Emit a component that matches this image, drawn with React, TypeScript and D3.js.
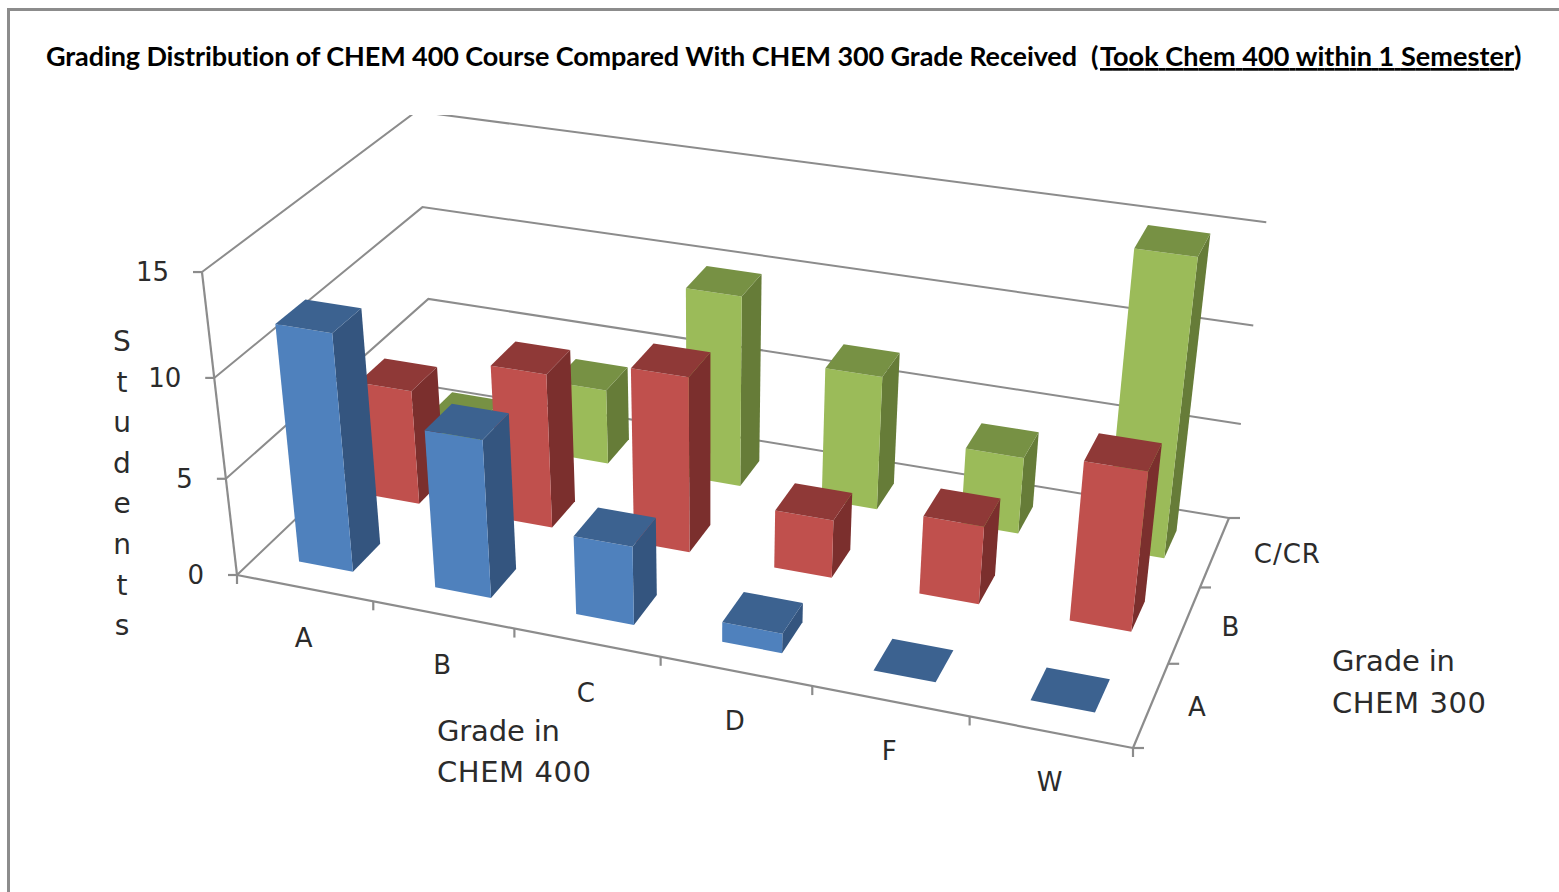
import React from "react";
import * as d3 from "d3";

const grades400 = ["A", "B", "C", "D", "F", "W"];
const grades300 = ["A", "B", "C/CR"];
const valuesA = [12, 8, 4, 1, 0, 0];
const valuesB = [6, 8, 9, 3, 4, 8];
const valuesC = [1, 4, 10, 7, 4, 15];
const zTicks = [0, 5, 10, 15];
const frontColors = ["#4f81bd", "#c0504d", "#9bbb59"];
const sideColors = ["#34557f", "#7b2f2d", "#667c38"];
const topColors = ["#3c6290", "#8f3937", "#779144"];
const seriesValues = [valuesA, valuesB, valuesC];
const yAxisLetters = "Students".split("");

type Pt = [number, number];
const FL: Pt = [237, 575];
const FR: Pt = [1133, 748];
const BR: Pt = [1229, 518];
const BL: Pt = [434, 387];
const VP: Pt = [708, 4650];
const lambdaMax = -0.0692;

function makeProjection() {
  const [x0, y0] = FL, [x1, y1] = FR, [x2, y2] = BR, [x3, y3] = BL;
  const dx1 = x1 - x2, dx2 = x3 - x2, sx = x0 - x1 + x2 - x3;
  const dy1 = y1 - y2, dy2 = y3 - y2, sy = y0 - y1 + y2 - y3;
  const den = dx1 * dy2 - dx2 * dy1;
  const g = (sx * dy2 - dx2 * sy) / den;
  const h = (dx1 * sy - sx * dy1) / den;
  const a = x1 - x0 + g * x1, b = x3 - x0 + h * x3, c = x0;
  const d = y1 - y0 + g * y1, e = y3 - y0 + h * y3, f = y0;
  return (u: number, v: number, z: number): Pt => {
    const l = lambdaMax * z;
    const W = g * u + h * v + 1 + l;
    return [(a * u + b * v + c + l * VP[0]) / W, (d * u + e * v + f + l * VP[1]) / W];
  };
}
const project = makeProjection();
const uScale = d3.scaleBand<string>().domain(grades400).range([0, 1]).paddingInner(0.6).paddingOuter(0.3);
const vScale = d3.scaleBand<string>().domain(grades300).range([0, 1]).paddingInner(0.6).paddingOuter(0.3);
const zScale = d3.scaleLinear().domain([0, 15]).range([0, 1]);
const uStep = d3.scalePoint<string>().domain(grades400).range([0, 1]).padding(0.5);
const vStep = d3.scalePoint<string>().domain(grades300).range([0, 1]).padding(0.5);

const line = d3.line<Pt>();
const poly = (pts: Pt[]) => line(pts) + "Z";
const AXIS = "#8c8c8c";
const LABEL = "#2b2b2b";
const FONT = "'DejaVu Sans', sans-serif";
const soft = { filter: "blur(0.5px)" };

export default function App() {
  const bars: React.ReactNode[] = [];
  for (let j = grades300.length - 1; j >= 0; j--) {
    const v0 = vScale(grades300[j])!, v1 = v0 + vScale.bandwidth();
    grades400.forEach((cat, i) => {
      const u0 = uScale(cat)!, u1 = u0 + uScale.bandwidth();
      const z = zScale(seriesValues[j][i]);
      bars.push(
        <g key={cat + j}>
          <path d={poly([project(u1, v0, 0), project(u1, v1, 0), project(u1, v1, z), project(u1, v0, z)])} fill={sideColors[j]} />
          <path d={poly([project(u0, v0, 0), project(u1, v0, 0), project(u1, v0, z), project(u0, v0, z)])} fill={frontColors[j]} />
          <path d={poly([project(u0, v0, z), project(u1, v0, z), project(u1, v1, z), project(u0, v1, z)])} fill={topColors[j]} />
        </g>
      );
    });
  }

  const grid = zTicks.map((t) => {
    const z = zScale(t);
    return <path key={t} d={line([project(0, 0, z), project(0, 1, z), project(1, 1, z)])!} fill="none" stroke={AXIS} strokeWidth={2} />;
  });

  const seg = (a: Pt, b: Pt, k: string) => <path key={k} d={line([a, b])!} stroke={AXIS} strokeWidth={2.2} fill="none" />;
  const ticks: React.ReactNode[] = [];
  zTicks.forEach((t) => {
    const p = project(0, 0, zScale(t));
    ticks.push(seg([p[0] - 9, p[1]], p, "z" + t));
  });
  d3.range(0, grades400.length + 1).forEach((i) => {
    const p = project(i / grades400.length, 0, 0);
    ticks.push(seg(p, [p[0], p[1] + 9], "u" + i));
  });
  d3.range(0, grades300.length + 1).forEach((j) => {
    const p = project(1, j / grades300.length, 0);
    ticks.push(seg(p, [p[0] + 11, p[1]], "v" + j));
  });

  const uLabelPos = grades400.map((c) => {
    const p = project(uStep(c)!, 0, 0);
    return <text key={c} x={p[0] - 1} y={p[1] + 59} fontSize={26} textAnchor="middle" fontFamily={FONT} fill={LABEL}>{c}</text>;
  });
  const vLabelPos = grades300.map((c) => {
    const p = project(1, vStep(c)!, 0);
    return <text key={c} x={p[0] + 46 + (c.length > 1 ? 26 : 0)} y={p[1] + 11} fontSize={26} textAnchor="middle" fontFamily={FONT} fill={LABEL} textLength={c.length > 1 ? 66 : undefined}>{c}</text>;
  });

  const titleStyle: React.CSSProperties = { whiteSpace: "pre", fontVariantLigatures: "none" };
  const titleProps = { y: 66, fontFamily: "Lato, sans-serif", fontWeight: 700, fontSize: 27, fill: "#000", lengthAdjust: "spacing", style: titleStyle };

  return (
    <svg width={1559} height={892} style={{ position: "absolute", left: 0, top: 0, background: "#fff" }}>
      <defs>
        <clipPath id="plotClip"><rect x={0} y={115} width={1559} height={777} /></clipPath>
      </defs>
      <path d="M8.5 892V9.5H1559" fill="none" stroke={AXIS} strokeWidth={3} />
      <text {...titleProps} x={46} textLength={1031}>Grading Distribution of CHEM 400 Course Compared With CHEM 300 Grade Received</text>
      <text {...titleProps} x={1091}>(</text>
      <text {...titleProps} x={1100} textLength={414} textDecoration="underline">Took Chem 400 within 1 Semester</text>
      <text {...titleProps} x={1514}>)</text>
      <g style={soft}>
        <g clipPath="url(#plotClip)">
          {grid}
          {seg(project(0, 0, 0), project(0, 0, 1), "vert")}
          {seg(project(0, 0, 0), project(1, 0, 0), "front")}
          {seg(project(1, 0, 0), project(1, 1, 0), "right")}
          {ticks}
        </g>
        {bars}
      </g>
      {zTicks.map((t) => {
        const p = project(0, 0, zScale(t));
        return <text key={t} x={p[0] - 33} y={p[1] + 9} fontSize={26} textAnchor="end" fontFamily={FONT} fill={LABEL}>{t}</text>;
      })}
      {uLabelPos}
      {vLabelPos}
      {yAxisLetters.map((ch, i) => (
        <text key={i} x={122} y={351 + i * 40.6} fontSize={28} textAnchor="middle" fontFamily={FONT} fill={LABEL}>{ch}</text>
      ))}
      <text fontSize={29} fontFamily={FONT} fill={LABEL} x={437} y={741} textLength={123}>Grade in</text>
      <text fontSize={29} fontFamily={FONT} fill={LABEL} x={437} y={782} textLength={154}>CHEM 400</text>
      <text fontSize={29} fontFamily={FONT} fill={LABEL} x={1332} y={671} textLength={123}>Grade in</text>
      <text fontSize={29} fontFamily={FONT} fill={LABEL} x={1332} y={713} textLength={154}>CHEM 300</text>
    </svg>
  );
}
